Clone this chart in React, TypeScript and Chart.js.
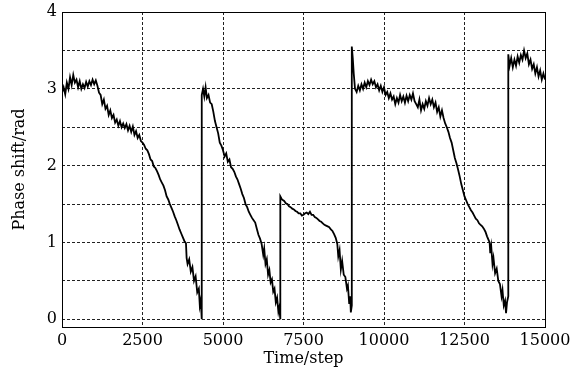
import React, { useEffect, useRef } from "react";
import { Chart, registerables } from "chart.js";

Chart.register(...registerables);

// Segment 1: 0 .. 4340
const seg1Steps = [0, 50, 100, 150, 200, 250, 300, 350, 400, 450, 500, 550, 600, 650, 700, 750, 800, 850, 900, 950, 1000, 1050, 1100, 1150, 1200, 1250, 1300, 1350, 1400, 1450, 1500, 1550, 1600, 1650, 1700, 1750, 1800, 1850, 1900, 1950, 2000, 2050, 2100, 2150, 2200, 2250, 2300, 2350, 2400, 2450, 2500, 2550, 2600, 2650, 2700, 2750, 2800, 2850, 2900, 2950, 3000, 3050, 3100, 3150, 3200, 3250, 3300, 3350, 3400, 3450, 3500, 3550, 3600, 3650, 3700, 3750, 3800, 3850, 3870, 3900, 3950, 4000, 4050, 4100, 4150, 4200, 4250, 4280, 4310, 4340];
const seg1Phase = [2.95, 3.02, 2.93, 3.08, 3.0, 3.15, 3.05, 3.18, 3.08, 3.12, 3.02, 3.1, 3.0, 3.06, 3.01, 3.09, 3.03, 3.1, 3.05, 3.12, 3.06, 3.11, 3.04, 2.95, 2.92, 2.8, 2.86, 2.74, 2.78, 2.66, 2.72, 2.62, 2.66, 2.56, 2.6, 2.52, 2.58, 2.5, 2.55, 2.49, 2.54, 2.46, 2.52, 2.44, 2.51, 2.4, 2.45, 2.36, 2.4, 2.32, 2.3, 2.27, 2.22, 2.2, 2.15, 2.08, 2.06, 1.99, 1.97, 1.93, 1.88, 1.82, 1.78, 1.74, 1.68, 1.6, 1.56, 1.5, 1.45, 1.4, 1.34, 1.29, 1.23, 1.17, 1.12, 1.07, 1.02, 0.99, 0.8, 0.72, 0.78, 0.62, 0.68, 0.5, 0.56, 0.35, 0.4, 0.18, 0.25, 0.0];

// Segment 2: 4340 .. 6780
const seg2Steps = [4340, 4380, 4420, 4460, 4500, 4550, 4600, 4650, 4700, 4750, 4800, 4850, 4900, 4950, 5000, 5050, 5100, 5150, 5200, 5250, 5300, 5350, 5400, 5450, 5500, 5550, 5600, 5650, 5700, 5750, 5800, 5850, 5900, 5950, 6000, 6050, 6100, 6150, 6200, 6250, 6280, 6320, 6360, 6400, 6440, 6480, 6520, 6560, 6600, 6640, 6680, 6720, 6750, 6780];
const seg2Phase = [2.92, 3.0, 2.9, 3.02, 2.88, 2.92, 2.82, 2.8, 2.7, 2.58, 2.5, 2.42, 2.3, 2.26, 2.2, 2.12, 2.16, 2.05, 2.08, 1.98, 1.96, 1.92, 1.86, 1.82, 1.76, 1.7, 1.63, 1.58, 1.5, 1.46, 1.4, 1.36, 1.32, 1.29, 1.26, 1.18, 1.1, 1.05, 0.98, 0.84, 0.92, 0.72, 0.78, 0.58, 0.64, 0.48, 0.52, 0.36, 0.4, 0.22, 0.28, 0.1, 0.16, 0.0];

// Segment 3: 6780 .. 9000
const seg3Steps = [6780, 6830, 6900, 6950, 7000, 7050, 7100, 7150, 7200, 7250, 7300, 7350, 7400, 7450, 7500, 7550, 7600, 7650, 7700, 7750, 7800, 7850, 7900, 7950, 8000, 8050, 8100, 8150, 8200, 8250, 8300, 8350, 8400, 8450, 8500, 8550, 8580, 8620, 8660, 8700, 8750, 8800, 8850, 8880, 8920, 8950, 8970, 9000];
const seg3Phase = [1.6, 1.56, 1.54, 1.51, 1.5, 1.47, 1.46, 1.44, 1.43, 1.41, 1.4, 1.38, 1.38, 1.35, 1.36, 1.38, 1.39, 1.37, 1.4, 1.36, 1.36, 1.33, 1.32, 1.3, 1.28, 1.27, 1.25, 1.23, 1.22, 1.21, 1.2, 1.17, 1.15, 1.11, 1.06, 0.98, 0.82, 0.9, 0.65, 0.76, 0.58, 0.55, 0.4, 0.44, 0.2, 0.3, 0.09, 0.18];

// Segment 4: 9000 .. 13860
const seg4Steps = [9000, 9030, 9060, 9100, 9150, 9200, 9250, 9300, 9350, 9400, 9450, 9500, 9550, 9600, 9650, 9700, 9750, 9800, 9850, 9900, 9950, 10000, 10050, 10100, 10150, 10200, 10250, 10300, 10350, 10400, 10450, 10500, 10550, 10600, 10650, 10700, 10750, 10800, 10850, 10900, 10950, 11000, 11050, 11100, 11150, 11200, 11250, 11300, 11350, 11400, 11450, 11500, 11550, 11600, 11650, 11700, 11750, 11800, 11850, 11900, 11950, 12000, 12050, 12100, 12150, 12200, 12250, 12300, 12350, 12400, 12450, 12500, 12550, 12600, 12650, 12700, 12750, 12800, 12850, 12900, 12950, 13000, 13050, 13100, 13150, 13200, 13250, 13280, 13300, 13330, 13370, 13400, 13450, 13500, 13550, 13600, 13650, 13680, 13720, 13760, 13790, 13820, 13860];
const seg4Phase = [3.55, 3.4, 3.2, 3.0, 2.96, 3.04, 2.98, 3.06, 3.0, 3.08, 3.02, 3.1, 3.05, 3.12, 3.06, 3.1, 3.02, 3.06, 2.98, 3.04, 2.96, 3.02, 2.92, 2.96, 2.88, 2.94, 2.86, 2.9, 2.8, 2.88, 2.82, 2.92, 2.84, 2.9, 2.82, 2.91, 2.84, 2.92, 2.86, 2.94, 2.84, 2.8, 2.76, 2.86, 2.72, 2.8, 2.74, 2.84, 2.78, 2.88, 2.8, 2.86, 2.76, 2.82, 2.7, 2.76, 2.64, 2.72, 2.62, 2.55, 2.5, 2.44, 2.36, 2.3, 2.2, 2.1, 2.03, 1.95, 1.86, 1.76, 1.68, 1.6, 1.55, 1.5, 1.46, 1.42, 1.39, 1.35, 1.31, 1.29, 1.25, 1.23, 1.21, 1.18, 1.14, 1.08, 1.03, 1.0, 0.86, 0.95, 0.72, 0.8, 0.6, 0.66, 0.5, 0.46, 0.3, 0.38, 0.18, 0.24, 0.08, 0.22, 0.3];

// Segment 5: 13860 .. 15000
const seg5Steps = [13860, 13900, 13950, 14000, 14050, 14100, 14150, 14200, 14250, 14300, 14350, 14400, 14450, 14500, 14550, 14600, 14650, 14700, 14750, 14800, 14850, 14900, 14950, 15000];
const seg5Phase = [3.45, 3.3, 3.4, 3.28, 3.38, 3.3, 3.42, 3.34, 3.44, 3.38, 3.5, 3.4, 3.46, 3.32, 3.38, 3.26, 3.32, 3.2, 3.28, 3.16, 3.24, 3.12, 3.2, 3.12];

const xTicks = [0, 2500, 5000, 7500, 10000, 12500, 15000];
const yTicks = [0, 0.5, 1, 1.5, 2, 2.5, 3, 3.5, 4];
const yLabels = [0, 1, 2, 3, 4];

const allSteps = [...seg1Steps, ...seg2Steps, ...seg3Steps, ...seg4Steps, ...seg5Steps];
const allPhase = [...seg1Phase, ...seg2Phase, ...seg3Phase, ...seg4Phase, ...seg5Phase];

const FONT = "'DejaVu Serif', serif";

const boxPlugin = {
  id: "boxPlugin",
  afterDatasetsDraw(chart: any) {
    const { ctx, chartArea } = chart;
    ctx.save();
    ctx.strokeStyle = "#000";
    ctx.lineWidth = 1;
    ctx.setLineDash([]);
    ctx.strokeRect(
      Math.round(chartArea.left) + 0.5,
      Math.round(chartArea.top) + 0.5,
      Math.round(chartArea.right - chartArea.left),
      Math.round(chartArea.bottom - chartArea.top)
    );
    ctx.restore();
  },
};

export default function App() {
  const ref = useRef<HTMLCanvasElement | null>(null);
  useEffect(() => {
    if (!ref.current) return;
    const data = allSteps.map((s, i) => ({ x: s, y: allPhase[i] }));
    const chart = new Chart(ref.current, {
      type: "line",
      data: {
        datasets: [
          {
            data,
            borderColor: "#000",
            borderWidth: 1.8,
            pointRadius: 0,
            tension: 0,
            fill: false,
          },
        ],
      },
      plugins: [boxPlugin],
      options: {
        animation: false,
        responsive: true,
        maintainAspectRatio: false,
        layout: { autoPadding: false, padding: { top: 12, right: 25, left: 0, bottom: 0 } },
        plugins: { legend: { display: false }, tooltip: { enabled: false } },
        scales: {
          x: {
            type: "linear",
            min: 0,
            max: 15000,
            afterBuildTicks: (scale: any) => {
              scale.ticks = xTicks.map((v) => ({ value: v }));
            },
            afterFit: (scale: any) => {
              scale.height = 46;
              scale.paddingLeft = 0;
              scale.paddingRight = 0;
            },
            ticks: {
              color: "#000",
              font: { family: FONT, size: 16 },
              padding: 4,
              maxRotation: 0,
              autoSkip: false,
              callback: (v: any) => String(v),
            },
            grid: {
              color: "#222",
              lineWidth: 1,
              drawTicks: false,
            },
            border: { display: false, dash: [3, 2] },
            title: {
              display: true,
              text: "Time/step",
              color: "#000",
              font: { family: FONT, size: 16 },
              padding: { top: 0, bottom: 5 },
            },
          },
          y: {
            type: "linear",
            min: -0.1,
            max: 4,
            afterBuildTicks: (scale: any) => {
              scale.ticks = yTicks.map((v) => ({ value: v }));
            },
            afterFit: (scale: any) => {
              scale.width = 62;
              scale.paddingTop = 0;
              scale.paddingBottom = 0;
            },
            ticks: {
              color: "#000",
              font: { family: FONT, size: 16 },
              padding: 5,
              autoSkip: false,
              callback: (v: any) => (yLabels.includes(v) ? String(v) : ""),
            },
            grid: {
              color: "#222",
              lineWidth: 1,
              drawTicks: false,
            },
            border: { display: false, dash: [3, 2] },
            title: {
              display: true,
              text: "Phase shift/rad",
              color: "#000",
              font: { family: FONT, size: 16 },
              padding: { top: 10, bottom: 0 },
            },
          },
        },
      },
    });
    return () => chart.destroy();
  }, []);
  return (
    <div style={{ position: "absolute", left: 0, top: 0, width: 570, height: 373 }}>
      <canvas ref={ref} />
    </div>
  );
}
